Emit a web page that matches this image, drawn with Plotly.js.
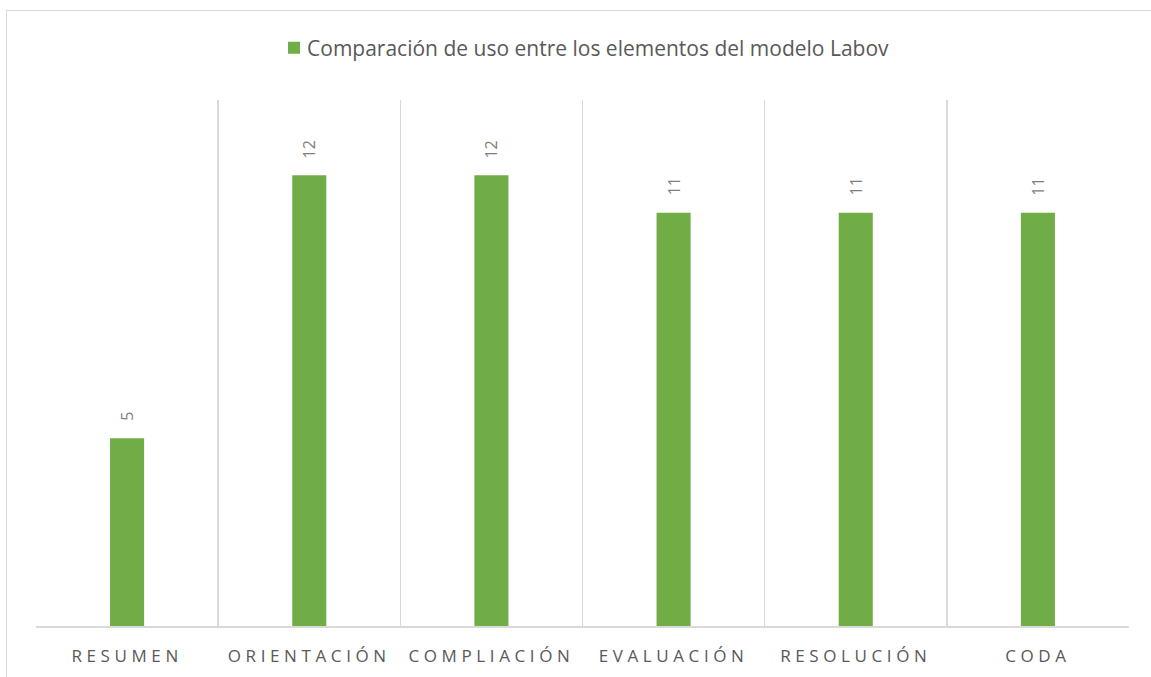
<!DOCTYPE html>
<html>
<head>
<meta charset="utf-8">
<script src="https://cdn.plot.ly/plotly-3.0.1.min.js"></script>
<style>
  html, body { margin: 0; padding: 0; background: #fff; overflow: hidden; }
  #frame { position: absolute; left: 6px; top: 10px; width: 1300px; height: 800px; border: 1.5px solid #d9d9d9; box-sizing: border-box; }
  #chart { position: absolute; left: 0; top: 0; width: 1151px; height: 677px; }
  .xtick text { letter-spacing: 4.6px; }
  .legend .legendpoints { transform: translate(7px, 0px); }
</style>
</head>
<body>
<div id="frame"></div>
<div id="chart"></div>
<script>
const categories = ["RESUMEN", "ORIENTACIÓN", "COMPLIACIÓN", "EVALUACIÓN", "RESOLUCIÓN", "CODA"];
const values = [5, 12, 12, 11, 11, 11];
const seriesName = "Comparación de uso entre los elementos del modelo Labov";

const trace = {
  type: "bar",
  x: categories,
  y: values,
  name: seriesName,
  marker: { color: "#70AD47" },
  width: 0.187,
  showlegend: true,
  hoverinfo: "x+y"
};

const annotations = categories.map((c, i) => ({
  x: c, y: values[i], xref: "x", yref: "y",
  text: String(values[i]),
  showarrow: false,
  textangle: -90,
  yanchor: "bottom",
  yshift: 15,
  font: { family: "Open Sans, Noto Sans, sans-serif", size: 16, color: "#7f7f7f" }
}));

const layout = {
  width: 1151, height: 677,
  margin: { l: 36, r: 22, t: 100, b: 51, pad: 0 },
  paper_bgcolor: "rgba(0,0,0,0)",
  plot_bgcolor: "rgba(0,0,0,0)",
  font: { family: "Open Sans, Noto Sans, sans-serif", color: "#595959" },
  showlegend: true,
  legend: {
    orientation: "h", x: 0.5048, xanchor: "center", xref: "container",
    y: 0.929, yref: "container", yanchor: "middle",
    font: { size: 21, color: "#595959", family: "Open Sans, Noto Sans, sans-serif" },
    itemwidth: 30
  },
  xaxis: {
    type: "category",
    tickson: "boundaries",
    showgrid: true, gridcolor: "#d9d9d9", gridwidth: 1.5,
    showline: true, linecolor: "#d9d9d9", linewidth: 1.5,
    mirror: false,
    ticks: "", ticklen: 0,
    ticklabelstandoff: 14,
    tickfont: { size: 17, color: "#595959", family: "Open Sans, Noto Sans, sans-serif" },
    fixedrange: true
  },
  yaxis: {
    range: [0, 14],
    showgrid: false, zeroline: false, showline: false,
    showticklabels: false, ticks: "",
    fixedrange: true
  },
  annotations: annotations
};

Plotly.newPlot("chart", [trace], layout, { displayModeBar: false, staticPlot: true });
</script>
</body>
</html>
